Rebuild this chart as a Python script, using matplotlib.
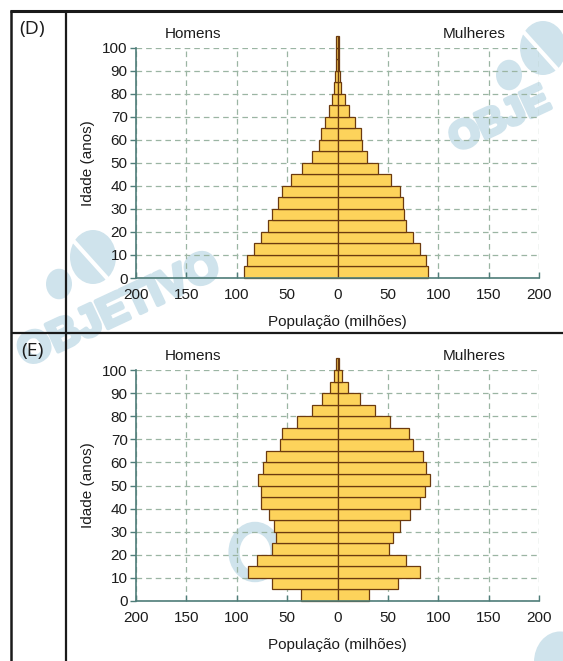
import matplotlib
matplotlib.use("Agg")
import matplotlib.pyplot as plt
import matplotlib.patheffects as pe
from matplotlib.lines import Line2D
from matplotlib.patches import Circle

# Age groups (lower bound of each 5-year class; last one is 100+)
age_starts = list(range(0, 105, 5))

# Population in millions per age group
d_homens = [93, 90, 83, 75.5, 68.5, 65, 59.5, 55.5, 46, 35.5, 25, 18.5, 16, 12, 8.3, 5.1, 3.3, 2.2, 1.5, 1.2, 1.0]
d_mulheres = [89.5, 87.5, 81.5, 75, 67.5, 66.3, 64.7, 62.5, 53.4, 39.8, 29.2, 24.6, 23, 17.5, 11.4, 7.7, 3.6, 2.5, 1.5, 1.2, 1.0]

e_homens = [36, 65.5, 88.5, 79.5, 65.3, 61, 63, 67.8, 75.6, 75.6, 78.5, 74.4, 70.6, 57, 55, 40.5, 25.5, 15, 7.2, 3.8, 1.0]
e_mulheres = [31.5, 60.3, 82, 67.5, 51.5, 55.5, 62.2, 71.5, 81.5, 86.8, 92, 88.3, 85.2, 75.3, 70.8, 52.2, 37.7, 22.8, 10.9, 4.3, 1.0]

x_ticks = [-200, -150, -100, -50, 0, 50, 100, 150, 200]
x_ticklabels = ["200", "150", "100", "50", "0", "50", "100", "150", "200"]
y_ticks = list(range(0, 101, 10))

panels = [("(D)", d_homens, d_mulheres), ("(E)", e_homens, e_mulheres)]

W, H = 563, 661
fig = plt.figure(figsize=(W / 100, H / 100), dpi=100)
fig.patch.set_facecolor("white")


def fx(px):
    return px / W


def fy(py):
    return 1 - py / H


BAR_FILL = "#fdd35b"
BAR_EDGE = "#6b3a0f"
AXIS_COL = "#4f7d79"
GRID_COL = "#9bb5a3"
TEXT_COL = "#1c1c1c"
WM_COL = "#cfe3ec"
FONT = "Liberation Sans"
WM_STROKE = [pe.withStroke(linewidth=3, foreground=WM_COL)]


# --- faint "OBJETIVO" watermarks in the background ---
def logo(cx, cy):
    fig.add_artist(Circle((fx(cx), fy(cy)), 23 / W, transform=fig.transFigure,
                          facecolor=WM_COL, edgecolor="none", zorder=-5))
    fig.add_artist(Circle((fx(cx - 34), fy(cy + 27)), 13 / W, transform=fig.transFigure,
                          facecolor=WM_COL, edgecolor="none", zorder=-5))
    fig.add_artist(Line2D([fx(cx - 23), fx(cx + 22)], [fy(cy - 20), fy(cy + 30)],
                          transform=fig.transFigure, color="white", lw=3, zorder=-4))


logo(93, 257)
fig.text(fx(119), fy(311), "OBJETIVO", fontsize=31, fontweight="bold",
         family=FONT, color=WM_COL, rotation=25, ha="center", va="center",
         rotation_mode="anchor", zorder=-5, path_effects=WM_STROKE)

logo(543, 48)
fig.text(fx(452), fy(143), "OBJE", fontsize=28, fontweight="bold",
         family=FONT, color=WM_COL, rotation=25, ha="left", va="center",
         rotation_mode="anchor", zorder=-5, path_effects=WM_STROKE)

fig.add_artist(Circle((fx(255), fy(552)), 21 / W, transform=fig.transFigure,
                      facecolor="none", edgecolor=WM_COL, lw=8, zorder=-5))
fig.add_artist(Circle((fx(560), fy(662)), 26 / W, transform=fig.transFigure,
                      facecolor=WM_COL, edgecolor="none", zorder=-5))

# --- panel layouts: pixel rows for age 0 and age 100 ---
rows = [(278, 47.7), (601, 370)]
left_px, right_px = 136, 539

for (tag, homens, mulheres), (y0, y100) in zip(panels, rows):
    ax = fig.add_axes([fx(left_px), fy(y0), fx(right_px) - fx(left_px), fy(y100) - fy(y0)])
    ax.patch.set_alpha(0)
    ax.barh(age_starts, [-v for v in homens], height=5, align="edge",
            color=BAR_FILL, edgecolor=BAR_EDGE, linewidth=0.9, clip_on=False, zorder=3)
    ax.barh(age_starts, mulheres, height=5, align="edge",
            color=BAR_FILL, edgecolor=BAR_EDGE, linewidth=0.9, clip_on=False, zorder=3)

    ax.set_xlim(-200, 200)
    ax.set_ylim(0, 100)
    ax.set_xticks(x_ticks)
    ax.set_xticklabels(x_ticklabels)
    ax.set_yticks(y_ticks)

    ax.set_axisbelow(True)
    ax.grid(True, color=GRID_COL, linestyle=(0, (4.5, 3.2)), linewidth=0.9)

    for s in ("top", "right"):
        ax.spines[s].set_visible(False)
    for s in ("left", "bottom"):
        ax.spines[s].set_color(AXIS_COL)
        ax.spines[s].set_linewidth(1.2)
        ax.spines[s].set_zorder(4)

    ax.tick_params(axis="y", direction="out", length=4, width=1, color=AXIS_COL,
                   pad=2, labelsize=11, labelcolor=TEXT_COL)
    ax.tick_params(axis="x", direction="in", length=4, width=1, color=AXIS_COL,
                   pad=7.5, labelsize=11, labelcolor=TEXT_COL)
    for lab in ax.get_xticklabels() + ax.get_yticklabels():
        lab.set_family(FONT)

    ax.set_xlabel("População (milhões)", fontsize=11, family=FONT, color=TEXT_COL, labelpad=9)
    ax.set_ylabel("Idade (anos)", fontsize=11, family=FONT, color=TEXT_COL, labelpad=5)

    ax.text(-143, 106, "Homens", fontsize=11, family=FONT, color=TEXT_COL,
            ha="center", va="center")
    ax.text(136, 106, "Mulheres", fontsize=11, family=FONT, color=TEXT_COL,
            ha="center", va="center")

    fig.text(fx(32), fy(y100 - 19), tag, fontsize=14, family="Open Sans",
             color=TEXT_COL, ha="center", va="center")

# --- table rules around the two panels ---
rule = dict(transform=fig.transFigure, color="#1a1a1a", solid_capstyle="butt")
fig.add_artist(Line2D([fx(10), fx(563)], [fy(11), fy(11)], lw=2.2, **rule))
fig.add_artist(Line2D([fx(11), fx(11)], [fy(10), fy(661)], lw=1.8, **rule))
fig.add_artist(Line2D([fx(66), fx(66)], [fy(10), fy(661)], lw=1.6, **rule))
fig.add_artist(Line2D([fx(11), fx(563)], [fy(332.5), fy(332.5)], lw=1.6, **rule))

fig.savefig("out.png", dpi=100)
